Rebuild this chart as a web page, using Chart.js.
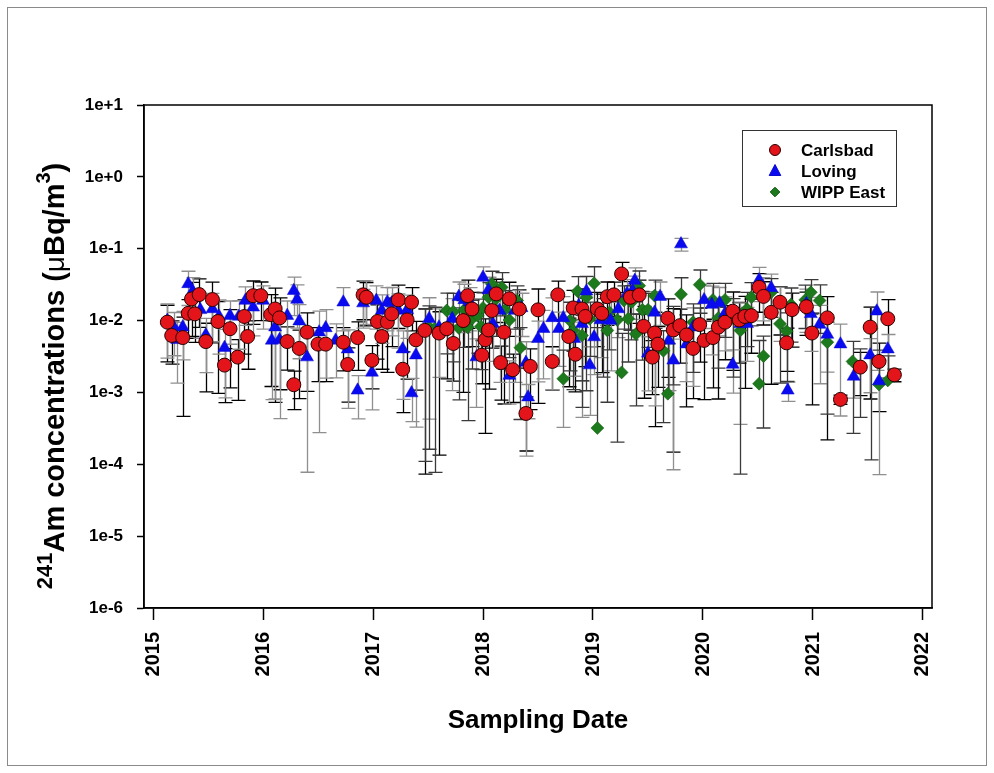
<!DOCTYPE html>
<html>
<head>
<meta charset="utf-8">
<title>241Am concentrations</title>
<script src="https://cdn.jsdelivr.net/npm/chart.js@4.4.1/dist/chart.umd.min.js"></script>
<style>
  html, body { margin: 0; padding: 0; background: #ffffff; }
  canvas { display: block; }
</style>
</head>
<body>
<canvas id="chart" width="994" height="773"></canvas>
<script>
// Axis ticks
const YEAR_TICKS = [2015, 2016, 2017, 2018, 2019, 2020, 2021, 2022];
const DECADE_TICKS = [1e-6, 1e-5, 1e-4, 1e-3, 1e-2, 1e-1, 1, 10];

// Carlsbad: sampling date (decimal year), concentration (µBq/m3), relative uncertainty
const carlsbadDate = [2015.13,2015.17,2015.27,2015.32,2015.35,2015.38,2015.42,2015.48,2015.54,2015.59,2015.65,2015.70,2015.77,2015.83,2015.86,2015.91,2015.98,2016.07,2016.11,2016.15,2016.22,2016.28,2016.33,2016.40,2016.50,2016.57,2016.73,2016.77,2016.86,2016.91,2016.94,2016.99,2017.04,2017.08,2017.13,2017.17,2017.23,2017.27,2017.31,2017.35,2017.39,2017.47,2017.60,2017.67,2017.73,2017.82,2017.86,2017.90,2017.99,2018.02,2018.05,2018.08,2018.12,2018.16,2018.19,2018.24,2018.27,2018.33,2018.39,2018.43,2018.50,2018.63,2018.68,2018.78,2018.82,2018.84,2018.90,2018.93,2019.04,2019.08,2019.13,2019.19,2019.26,2019.34,2019.42,2019.46,2019.54,2019.56,2019.59,2019.68,2019.73,2019.79,2019.85,2019.91,2019.97,2020.01,2020.09,2020.14,2020.20,2020.27,2020.33,2020.38,2020.44,2020.51,2020.55,2020.62,2020.70,2020.76,2020.81,2020.94,2020.99,2021.13,2021.25,2021.43,2021.52,2021.60,2021.68,2021.74];
const carlsbadConc = [0.0095,0.0062,0.0058,0.0126,0.020,0.0124,0.023,0.0051,0.0196,0.0097,0.0024,0.0077,0.0031,0.0114,0.0060,0.0222,0.0222,0.0121,0.0145,0.0109,0.0051,0.00128,0.0041,0.0069,0.0047,0.0047,0.0050,0.00245,0.0058,0.0228,0.0211,0.0028,0.0097,0.0060,0.0095,0.0124,0.0194,0.0021,0.0102,0.0180,0.0054,0.0073,0.0067,0.0077,0.0048,0.0100,0.0222,0.0145,0.0033,0.0054,0.0074,0.0138,0.0235,0.0026,0.0069,0.0201,0.00207,0.0145,0.00051,0.0023,0.0141,0.0027,0.0228,0.0060,0.0150,0.0034,0.0145,0.0114,0.0145,0.0126,0.0215,0.0228,0.0446,0.0211,0.0228,0.0083,0.0031,0.0067,0.0047,0.0108,0.0074,0.0085,0.0063,0.0041,0.0088,0.0053,0.0058,0.0081,0.0095,0.0135,0.0102,0.0114,0.0117,0.029,0.0217,0.0130,0.0180,0.0049,0.0142,0.0156,0.0067,0.0109,0.0008,0.00225,0.0081,0.0027,0.0106,0.00176];
const carlsbadRelErr = [0.72,0.6,0.92,0.55,0.7,0.6,0.65,0.8,0.75,0.9,0.7,0.85,0.75,0.7,0.65,0.6,0.55,0.9,0.95,0.9,0.6,0.55,0.8,0.85,0.7,0.7,0.6,0.7,0.65,0.55,0.6,0.6,0.7,0.65,0.8,0.65,0.6,0.75,0.85,0.6,0.8,0.99,0.98,0.8,0.7,0.9,0.65,0.7,0.6,0.95,0.85,0.7,0.6,0.7,0.9,0.7,0.65,0.85,0.7,0.75,0.95,0.6,0.55,0.8,0.75,0.7,0.9,0.8,0.7,0.85,0.6,0.5,0.45,0.65,0.6,0.9,0.7,0.95,0.75,0.85,0.98,0.7,0.9,0.8,0.7,0.85,0.8,0.9,0.7,0.85,0.75,0.9,0.7,0.55,0.6,0.9,0.65,0.6,0.7,0.6,0.9,0.98,0.15,0.6,0.9,0.8,0.85,0.2];

// Loving
const lovingDate = [2015.13,2015.19,2015.22,2015.27,2015.32,2015.36,2015.43,2015.48,2015.54,2015.60,2015.65,2015.70,2015.78,2015.84,2015.91,2016.00,2016.08,2016.11,2016.15,2016.22,2016.28,2016.31,2016.33,2016.40,2016.51,2016.57,2016.66,2016.73,2016.77,2016.86,2016.91,2016.94,2016.99,2017.03,2017.08,2017.13,2017.17,2017.23,2017.27,2017.31,2017.35,2017.39,2017.51,2017.60,2017.72,2017.78,2017.83,2017.88,2017.94,2018.00,2018.05,2018.09,2018.15,2018.24,2018.29,2018.35,2018.39,2018.41,2018.50,2018.55,2018.63,2018.69,2018.73,2018.83,2018.87,2018.90,2018.94,2018.97,2019.01,2019.07,2019.16,2019.23,2019.31,2019.36,2019.38,2019.50,2019.56,2019.61,2019.69,2019.73,2019.80,2019.85,2019.91,2020.01,2020.08,2020.15,2020.20,2020.27,2020.34,2020.40,2020.51,2020.55,2020.62,2020.70,2020.77,2020.94,2020.98,2021.06,2021.13,2021.25,2021.37,2021.52,2021.58,2021.60,2021.68];
const lovingConc = [0.0100,0.0081,0.0054,0.0081,0.0324,0.0256,0.0141,0.0063,0.0145,0.0114,0.0042,0.0117,0.0114,0.0190,0.0153,0.0190,0.0053,0.0081,0.0054,0.0117,0.026,0.0196,0.0098,0.0031,0.0069,0.0079,0.0053,0.018,0.0040,0.00107,0.0175,0.0222,0.0019,0.0190,0.0138,0.0180,0.0175,0.0138,0.0040,0.0141,0.00098,0.0033,0.0106,0.0081,0.0106,0.0215,0.0194,0.0180,0.0031,0.0399,0.0267,0.0090,0.0138,0.00172,0.0138,0.0150,0.0026,0.00086,0.0056,0.0077,0.0109,0.0077,0.0109,0.0056,0.0161,0.0090,0.0256,0.0024,0.0059,0.0102,0.0100,0.0145,0.0239,0.026,0.0360,0.0035,0.0130,0.0215,0.0053,0.0028,0.116,0.0047,0.0081,0.0194,0.0167,0.0175,0.0126,0.00245,0.0090,0.0090,0.0367,0.0247,0.0285,0.0171,0.00107,0.0171,0.0124,0.0088,0.0064,0.0047,0.00167,0.0033,0.0135,0.00144,0.0040];
const lovingRelErr = [0.7,0.6,0.75,0.65,0.5,0.55,0.6,0.7,0.65,0.7,0.8,0.6,0.65,0.55,0.6,0.6,0.85,0.9,0.92,0.6,0.55,0.6,0.7,0.975,0.96,0.8,0.7,0.6,0.85,0.6,0.55,0.6,0.7,0.6,0.65,0.6,0.65,0.7,0.8,0.6,0.6,0.9,0.96,0.8,0.9,0.6,0.65,0.6,0.8,0.4,0.5,0.7,0.9,0.6,0.9,0.6,0.95,0.5,0.75,0.8,0.9,0.7,0.97,0.7,0.6,0.95,0.6,0.8,0.7,0.7,0.8,0.6,0.55,0.6,0.5,0.7,0.95,0.6,0.8,0.97,0.2,0.7,0.85,0.6,0.8,0.65,0.7,0.6,0.96,0.7,0.5,0.6,0.55,0.7,0.3,0.6,0.7,0.85,0.7,0.9,0.5,0.7,0.85,0.95,0.6];

// WIPP East
const wippEastDate = [2017.47,2017.51,2017.56,2017.67,2017.73,2017.78,2017.83,2017.86,2017.90,2017.95,2017.98,2018.00,2018.05,2018.08,2018.12,2018.17,2018.20,2018.24,2018.31,2018.34,2018.73,2018.79,2018.82,2018.86,2018.90,2018.94,2018.97,2019.01,2019.04,2019.09,2019.13,2019.15,2019.22,2019.26,2019.28,2019.32,2019.35,2019.39,2019.42,2019.45,2019.50,2019.56,2019.64,2019.68,2019.73,2019.80,2019.91,2019.97,2020.09,2020.14,2020.20,2020.27,2020.34,2020.40,2020.44,2020.51,2020.55,2020.62,2020.70,2020.76,2020.80,2020.93,2020.98,2021.06,2021.13,2021.36,2021.43,2021.53,2021.60,2021.68];
const wippEastConc = [0.0073,0.0081,0.0077,0.0138,0.0133,0.0079,0.0141,0.0081,0.0106,0.0117,0.0083,0.0150,0.0211,0.0324,0.0201,0.029,0.0141,0.0102,0.0190,0.0042,0.00155,0.0100,0.0073,0.0256,0.0062,0.0211,0.0106,0.033,0.00032,0.0109,0.0073,0.0130,0.0102,0.0019,0.0190,0.0106,0.0180,0.0065,0.0306,0.0141,0.0141,0.0222,0.0038,0.00096,0.0085,0.0232,0.0095,0.0316,0.0194,0.0109,0.0194,0.0109,0.0073,0.0145,0.0211,0.00132,0.0032,0.0247,0.0090,0.0071,0.0167,0.0194,0.0247,0.0190,0.0050,0.0027,0.00225,0.0077,0.00129,0.00147];
const wippEastRelErr = [0.985,0.98,0.99,0.75,0.8,0.9,0.7,0.95,0.8,0.7,0.75,0.65,0.6,0.5,0.7,0.6,0.85,0.7,0.6,0.9,1.5,0.8,0.85,0.6,0.9,0.95,0.7,0.7,24,0.85,0.9,0.7,0.98,2.5,0.6,0.75,0.7,0.9,0.6,0.8,0.7,0.65,0.9,4,0.85,0.7,0.8,0.6,0.7,0.8,0.7,0.85,0.99,0.7,0.6,3,0.9,0.55,0.85,0.8,0.7,0.6,0.5,0.65,0.9,0.9,0.8,0.985,2,1.2];

const FONT = 'Arial, "Liberation Sans", Helvetica, sans-serif';

function toPoints(dates, conc) {
  return dates.map((d, i) => ({ x: d, y: conc[i] }));
}

function decadeLabel(v) {
  const e = Math.round(Math.log10(v));
  return '1e' + (e >= 0 ? '+' : '-') + Math.abs(e);
}

// Vertical error bars with caps, drawn beneath the markers
const errorBars = {
  id: 'errorBars',
  beforeDatasetsDraw(chart) {
    const { ctx, chartArea, scales } = chart;
    const yS = scales.y;
    ctx.save();
    ctx.beginPath();
    ctx.rect(chartArea.left, chartArea.top, chartArea.right - chartArea.left, chartArea.bottom - chartArea.top);
    ctx.clip();
    chart.data.datasets.forEach((ds, di) => {
      const meta = chart.getDatasetMeta(di);
      ctx.strokeStyle = ds.errorBarColor;
      ctx.lineWidth = 1.3;
      meta.data.forEach((pt, i) => {
        const v = ds.data[i].y;
        const r = ds.relErr[i];
        const px = Math.round(pt.x) + 0.5;
        const yUp = yS.getPixelForValue(v * (1 + r));
        const lowVal = v * (1 - r);
        const yLo = lowVal > 0 ? yS.getPixelForValue(lowVal) : pt.y;
        ctx.beginPath();
        ctx.moveTo(px, yUp);
        ctx.lineTo(px, yLo);
        ctx.moveTo(px - 7, yUp);
        ctx.lineTo(px + 7, yUp);
        if (lowVal > 0) {
          ctx.moveTo(px - 7, yLo);
          ctx.lineTo(px + 7, yLo);
        }
        ctx.stroke();
      });
    });
    ctx.restore();
  }
};

// Plot frame, outer border, axis titles and legend box
const decorations = {
  id: 'decorations',
  afterDraw(chart) {
    const { ctx, chartArea: a } = chart;
    ctx.save();
    // outer border
    ctx.strokeStyle = '#8a8a8a';
    ctx.lineWidth = 1;
    ctx.strokeRect(7.5, 7.5, 979, 758);
    // plot frame
    ctx.strokeStyle = '#000';
    ctx.lineWidth = 1.5;
    ctx.strokeRect(a.left, a.top, a.right - a.left, a.bottom - a.top);

    // x title
    ctx.fillStyle = '#000';
    ctx.font = 'bold 26px ' + FONT;
    ctx.textAlign = 'center';
    ctx.textBaseline = 'alphabetic';
    ctx.fillText('Sampling Date', (a.left + a.right) / 2, 728);

    // y title with superscripts
    const parts = [
      { t: '241', f: 'bold 22px ' + FONT, dy: -12 },
      { t: 'Am concentrations (', f: 'bold 29px ' + FONT, dy: 0 },
      { t: 'μ', f: '28px ' + FONT, dy: 0 },
      { t: 'Bq/m', f: 'bold 29px ' + FONT, dy: 0 },
      { t: '3', f: 'bold 20px ' + FONT, dy: -14 },
      { t: ')', f: 'bold 29px ' + FONT, dy: 0 }
    ];
    let total = 0;
    parts.forEach(p => { ctx.font = p.f; p.w = ctx.measureText(p.t).width; total += p.w; });
    ctx.translate(64, 376);
    ctx.rotate(-Math.PI / 2);
    ctx.textAlign = 'left';
    let xx = -total / 2;
    parts.forEach(p => { ctx.font = p.f; ctx.fillText(p.t, xx, p.dy); xx += p.w; });
    ctx.setTransform(1, 0, 0, 1, 0, 0);

    // legend
    const lx = 742.5, ly = 130.5, lw = 154, lh = 76;
    ctx.fillStyle = '#fff';
    ctx.fillRect(lx, ly, lw, lh);
    ctx.strokeStyle = '#333';
    ctx.lineWidth = 1;
    ctx.strokeRect(lx, ly, lw, lh);
    const rows = [150, 171, 192];
    const mx = 775;
    chart.data.datasets.forEach((ds, i) => {
      const y = rows[i];
      ctx.fillStyle = ds.backgroundColor;
      ctx.strokeStyle = ds.borderColor;
      ctx.lineWidth = 1;
      ctx.beginPath();
      if (ds.pointStyle === 'circle') {
        ctx.arc(mx, y, 5.5, 0, Math.PI * 2);
      } else if (ds.pointStyle === 'triangle') {
        ctx.moveTo(mx, y - 6.5);
        ctx.lineTo(mx + 5.8, y + 4.5);
        ctx.lineTo(mx - 5.8, y + 4.5);
        ctx.closePath();
      } else {
        ctx.moveTo(mx, y - 4.8);
        ctx.lineTo(mx + 4.8, y);
        ctx.lineTo(mx, y + 4.8);
        ctx.lineTo(mx - 4.8, y);
        ctx.closePath();
      }
      ctx.fill();
      ctx.stroke();
      ctx.fillStyle = '#000';
      ctx.font = 'bold 17px ' + FONT;
      ctx.textAlign = 'left';
      ctx.textBaseline = 'middle';
      ctx.fillText(ds.label, 801, y + 1);
    });
    ctx.restore();
  }
};

new Chart(document.getElementById('chart'), {
  type: 'scatter',
  data: {
    datasets: [
      {
        label: 'Carlsbad',
        data: toPoints(carlsbadDate, carlsbadConc),
        relErr: carlsbadRelErr,
        errorBarColor: '#000000',
        pointStyle: 'circle',
        pointRadius: 7,
        backgroundColor: '#e3141a',
        borderColor: '#2a0000',
        borderWidth: 1
      },
      {
        label: 'Loving',
        data: toPoints(lovingDate, lovingConc),
        relErr: lovingRelErr,
        errorBarColor: '#8f8f8f',
        pointStyle: 'triangle',
        pointRadius: 7.5,
        backgroundColor: '#0a0af0',
        borderColor: '#0a0ad0',
        borderWidth: 0.5
      },
      {
        label: 'WIPP East',
        data: toPoints(wippEastDate, wippEastConc),
        relErr: wippEastRelErr,
        errorBarColor: '#3a3a3a',
        pointStyle: 'rectRot',
        pointRadius: 6.5,
        backgroundColor: '#1c7a1c',
        borderColor: '#0e550e',
        borderWidth: 0.5
      }
    ]
  },
  options: {
    responsive: false,
    animation: false,
    events: [],
    layout: { padding: { left: 0, right: 62, top: 105, bottom: 0 } },
    plugins: { legend: { display: false }, tooltip: { enabled: false } },
    scales: {
      x: {
        type: 'linear',
        min: 2014.918,
        max: 2022.082,
        afterBuildTicks: s => { s.ticks = YEAR_TICKS.map(v => ({ value: v })); },
        afterFit: s => { s.height = 165; },
        ticks: {
          font: { family: FONT, size: 20, weight: 'bold' }, color: '#000', autoSkip: false,
          minRotation: 90, maxRotation: 90, padding: 12,
          callback: v => String(v)
        },
        grid: { drawOnChartArea: false, drawTicks: true, tickLength: 12, tickColor: '#000', tickWidth: 1.5 },
        border: { display: true, color: '#000', width: 1.5 }
      },
      y: {
        type: 'logarithmic',
        min: 1e-6,
        max: 10,
        afterBuildTicks: s => { s.ticks = DECADE_TICKS.map(v => ({ value: v, major: true })); },
        afterFit: s => { s.width = 144; },
        ticks: {
          font: { family: FONT, size: 17, weight: 'bold' }, color: '#000', autoSkip: false, padding: 14,
          callback: v => decadeLabel(v)
        },
        grid: { drawOnChartArea: false, drawTicks: true, tickLength: 7, tickColor: '#000', tickWidth: 1.5 },
        border: { display: true, color: '#000', width: 1.5 }
      }
    }
  },
  plugins: [errorBars, decorations]
});
</script>
</body>
</html>
